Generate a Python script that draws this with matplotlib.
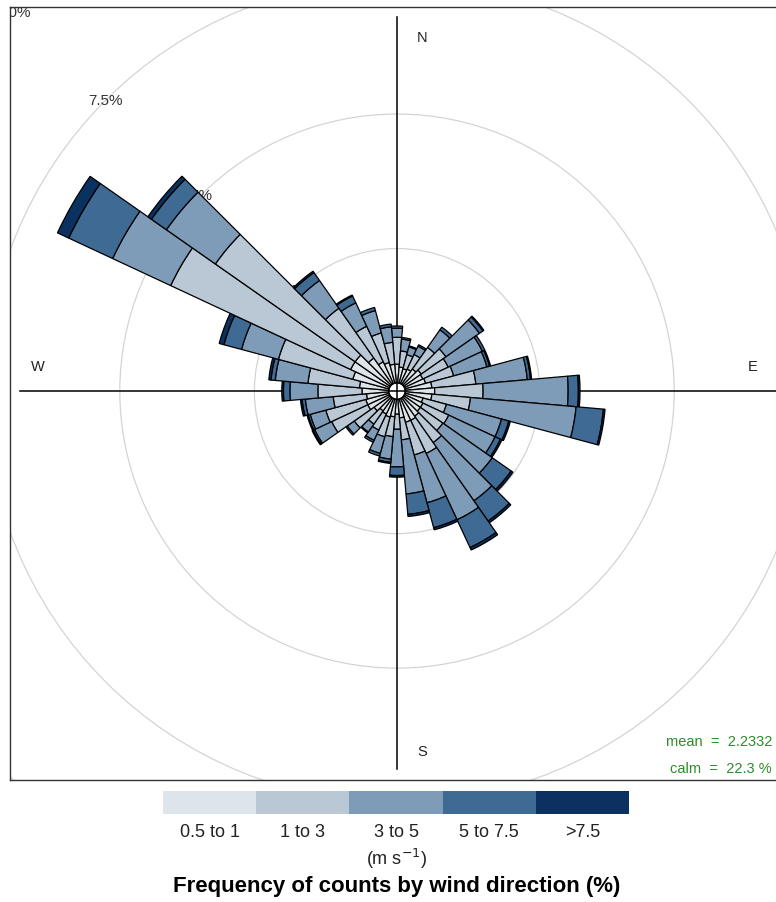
import matplotlib.pyplot as plt
from matplotlib.patches import Wedge, Circle
import numpy as np

plt.rcParams['font.family'] = ['Liberation Sans', 'DejaVu Sans']

# wind direction (degrees) and frequency (%) in each speed bin
directions = np.arange(0, 360, 10)
ws_0p5_1 = [0.35, 0.30, 0.28, 0.30, 0.35, 0.40, 0.38, 0.40, 0.50, 0.55,
            0.50, 0.35, 0.38, 0.38, 0.42, 0.45, 0.45, 0.35, 0.28, 0.33,
            0.35, 0.32, 0.30, 0.37, 0.45, 0.45, 0.42, 0.50, 0.55, 0.70,
            0.80, 0.80, 0.60, 0.45, 0.40, 0.35]
ws_1_3 = [0.50, 0.30, 0.27, 0.30, 0.49, 0.56, 0.52, 0.54, 0.82, 0.90,
          0.72, 0.45, 0.53, 0.51, 0.60, 0.68, 0.63, 0.41, 0.28, 0.37,
          0.38, 0.33, 0.30, 0.45, 0.74, 0.77, 0.62, 0.82, 0.96, 1.43,
          3.69, 3.17, 1.13, 0.73, 0.57, 0.41]
ws_3_5 = [0.17, 0.22, 0.15, 0.17, 0.40, 0.76, 0.70, 0.64, 0.96, 1.58,
          1.97, 1.06, 0.95, 1.12, 1.32, 1.36, 0.92, 1.01, 0.70, 0.42,
          0.32, 0.21, 0.18, 0.16, 0.35, 0.30, 0.52, 0.52, 0.61, 0.71,
          1.19, 1.11, 0.63, 0.48, 0.43, 0.29]
ws_5_7p5 = [0.04, 0.03, 0.02, 0.03, 0.06, 0.08, 0.05, 0.05, 0.06, 0.19,
            0.51, 0.14, 0.11, 0.43, 0.46, 0.57, 0.48, 0.38, 0.16, 0.06,
            0.05, 0.04, 0.02, 0.03, 0.03, 0.04, 0.06, 0.12, 0.08, 0.34,
            0.90, 0.34, 0.18, 0.14, 0.06, 0.05]
ws_gt7p5 = [0.00, 0.00, 0.00, 0.00, 0.00, 0.02, 0.00, 0.02, 0.02, 0.03,
            0.03, 0.03, 0.03, 0.04, 0.04, 0.05, 0.04, 0.04, 0.03, 0.02,
            0.00, 0.00, 0.00, 0.00, 0.02, 0.02, 0.03, 0.03, 0.04, 0.09,
            0.23, 0.08, 0.03, 0.02, 0.00, 0.00]

bin_labels = ["0.5 to 1", "1 to 3", "3 to 5", "5 to 7.5", ">7.5"]
bin_colors = ["#dde4ea", "#bac8d6", "#7e9cb8", "#3e6a93", "#0b3160"]
grid_levels = [2.5, 5, 7.5, 10]
grid_labels = ["2.5%", "5%", "7.5%", "10%"]
mean_ws = 2.2332
calm_pct = 22.3

off = 0.15  # radius of the calm hole
width = 10

fig = plt.figure(figsize=(7.76, 9.03), dpi=100)
ax = fig.add_axes([10 / 776, 122 / 903, 774 / 776, 773 / 903])
ax.set_xlim(-7.19, 7.19)
ax.set_ylim(-7.23, 7.14)
ax.set_xticks([])
ax.set_yticks([])
for s in ax.spines.values():
    s.set_color('#333333')
    s.set_linewidth(1.0)

# grid circles + labels (labels sit under the bars)
for g, lab in zip(grid_levels, grid_labels):
    ax.add_patch(Circle((0, 0), off + g, fill=False, ec='#d4d4d4', lw=0.9, zorder=1))
    a = np.radians(315)
    tx = (off + g) * np.sin(a)
    ty = (off + g) * np.cos(a)
    if g == 10:
        # corner label, clipped by the panel like the original
        tx, ty = tx + 0.1, ty - 0.13
    ax.text(tx, ty, lab, ha='center', va='center',
            fontsize=11, color='#333333', zorder=2.5, clip_on=True)

# axis cross
ax.plot([-7.0, 7.3], [0, 0], color='black', lw=1.1, zorder=2)
ax.plot([0, 0], [-7.03, 6.95], color='black', lw=1.1, zorder=2)

ax.text(0.46, 6.58, "N", ha='center', va='center', fontsize=10.5, color='#222222')
ax.text(0.46, -6.69, "S", ha='center', va='center', fontsize=10.5, color='#222222')
ax.text(-6.67, 0.46, "W", ha='center', va='center', fontsize=10.5, color='#222222')
ax.text(6.6, 0.46, "E", ha='center', va='center', fontsize=10.5, color='#222222')

# stacked wedges
bins = np.array([ws_0p5_1, ws_1_3, ws_3_5, ws_5_7p5, ws_gt7p5])
cum = np.cumsum(bins, axis=0)
for j, d in enumerate(directions):
    inner = 0.0
    for i in range(len(bin_labels)):
        outer = cum[i, j]
        if outer - inner > 0:
            w = Wedge((0, 0), off + outer, 90 - d - width / 2, 90 - d + width / 2,
                      width=outer - inner, fc=bin_colors[i], ec='black', lw=0.9, zorder=3)
            ax.add_patch(w)
        inner = outer

# mean / calm text
fig.text(772 / 776, 1 - 742 / 903, "mean  =  %.4f" % mean_ws, ha='right', va='center',
         fontsize=10.5, color='#2e8b2e')
fig.text(772 / 776, 1 - 769 / 903, "calm  =  %.1f %%" % calm_pct, ha='right', va='center',
         fontsize=10.5, color='#2e8b2e')

# legend colour key
lax = fig.add_axes([163 / 776, 1 - 815 / 903, 466 / 776, 23 / 903])
lax.bar(np.arange(5), np.ones(5), width=1.0, color=bin_colors, edgecolor='none')
lax.set_xlim(-0.5, 4.5)
lax.set_ylim(0, 1)
lax.axis('off')
for i, lab in enumerate(bin_labels):
    fig.text((163 + 93.2 * (i + 0.5)) / 776, 1 - 833 / 903, lab, ha='center', va='center',
             fontsize=13, color='#222222')
fig.text(397 / 776, 1 - 859 / 903, r"(m s$^{-1}$)", ha='center', va='center',
         fontsize=13, color='#222222')
fig.text(397 / 776, 1 - 887 / 903, "Frequency of counts by wind direction (%)",
         ha='center', va='center', fontsize=16, fontweight='bold', color='black')

fig.savefig("out.png", dpi=100)
